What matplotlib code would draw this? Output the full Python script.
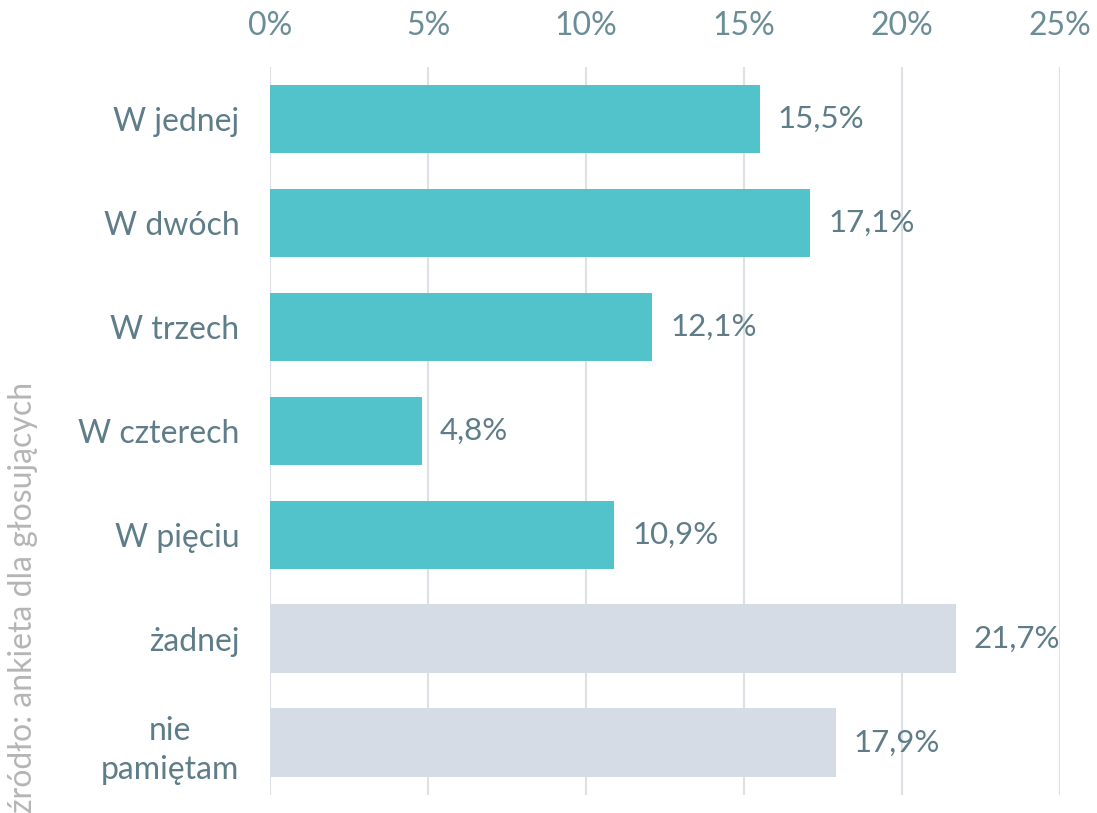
import matplotlib.pyplot as plt
from matplotlib.ticker import FuncFormatter

plt.rcParams['font.family'] = ['Lato', 'DejaVu Sans']

categories = ["W jednej", "W dwóch", "W trzech", "W czterech", "W pięciu", "żadnej", "nie\npamiętam"]
values = [15.5, 17.1, 12.1, 4.8, 10.9, 21.7, 17.9]
value_labels = ["15,5%", "17,1%", "12,1%", "4,8%", "10,9%", "21,7%", "17,9%"]
colors = ["#52C3CA"] * 5 + ["#D5DCE6"] * 2
xticks = [0, 5, 10, 15, 20, 25]

text_col = "#5E7D88"
tick_col = "#6A8D97"

fig = plt.figure(figsize=(10.97, 8.13), dpi=100)
ax = fig.add_axes([0.2461, 0.0225, 0.7202, 0.8950])

ypos = list(range(len(categories)))
ax.barh(ypos, values, height=0.66, color=colors, zorder=2)

for y, v, lab in zip(ypos, values, value_labels):
    ax.annotate(lab, (v, y), xytext=(13, 0), textcoords="offset points",
                va="center", ha="left", fontsize=22.5, color=text_col)

ax.set_xlim(0, 25)
ax.set_ylim(6.5, -0.5)
ax.set_xticks(xticks)
ax.xaxis.set_major_formatter(FuncFormatter(lambda x, p: f"{x:.0f}%"))
ax.xaxis.tick_top()
ax.tick_params(axis="x", length=0, pad=19, labelsize=23, labelcolor=tick_col)
ax.set_yticks(ypos)
ax.set_yticklabels(categories)
ax.tick_params(axis="y", length=0, pad=22, labelsize=23, labelcolor=text_col)
for t in ax.get_yticklabels():
    t.set_multialignment("center")
    t.set_linespacing(1.4)

ax.grid(axis="x", color="#DDE1E6", linewidth=1.5, zorder=0)
for s in ax.spines.values():
    s.set_visible(False)

fig.text(0.021, 0.0, "źródło: ankieta dla głosujących", rotation=90,
         ha="center", va="bottom", fontsize=23, color="#B5B5B5")

fig.savefig("out.png", dpi=100)
